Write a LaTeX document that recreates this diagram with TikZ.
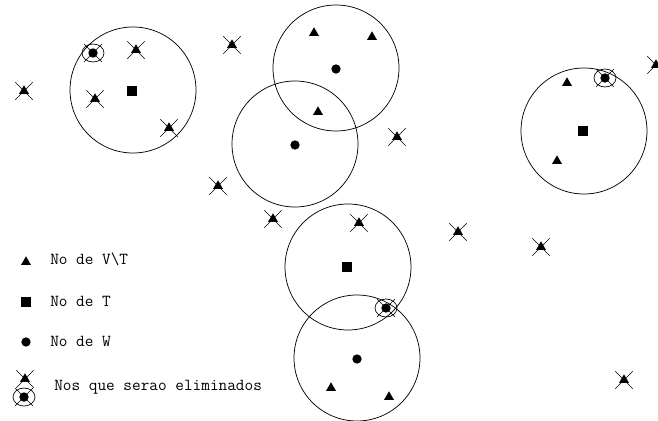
\documentclass[tikz,border=0pt]{standalone}
\usetikzlibrary{shapes.geometric, shapes.misc}

\begin{document}
\begin{tikzpicture}[
    x=0.75pt, y=-0.75pt,
    zone/.style={circle, draw, line width=0.55pt, minimum size=94.5pt, inner sep=0pt},
    vtnode/.style={regular polygon, regular polygon sides=3, fill, minimum size=8.6pt, inner sep=0pt},
    tnode/.style={rectangle, fill, minimum size=6.8pt, inner sep=0pt},
    wnode/.style={circle, fill, minimum size=7pt, inner sep=0pt},
    ring/.style={ellipse, draw, line width=0.5pt, minimum width=16.5pt, minimum height=13.5pt, inner sep=0pt},
    killtri/.style={cross out, draw, line width=0.5pt, minimum size=12.5pt, inner sep=0pt, label={[vtnode]center:}},
    killw/.style={cross out, draw, line width=0.5pt, minimum size=13pt, inner sep=0pt, label={[ring]center:}, label={[wnode]center:}},
    legendtext/.style={anchor=west, inner sep=0pt, font=\ttfamily\fontsize{12.6}{15}\selectfont},
]
\clip (0,0) rectangle (658,421);

% Circles
\node[zone] (c1) at (133,90) {};
\node[zone] (c2) at (336,68) {};
\node[zone] (c3) at (295,144) {};
\node[zone] (c4) at (348,267) {};
\node[zone] (c5) at (357,358) {};
\node[zone] (c6) at (584,131) {};

% Nodes of T
\node[tnode] (t1) at (132,91) {};
\node[tnode] (t2) at (347,267) {};
\node[tnode] (t3) at (583,131) {};

% Nodes of W
\node[wnode] (w1) at (336,69) {};
\node[wnode] (w2) at (295,145) {};
\node[wnode] (w3) at (357,359) {};

% Nodes of V\T
\node[vtnode] (v1) at (314,33) {};
\node[vtnode] (v2) at (372,37) {};
\node[vtnode] (v3) at (318,112) {};
\node[vtnode] (v4) at (331,388) {};
\node[vtnode] (v5) at (389,397) {};
\node[vtnode] (v6) at (567,83) {};
\node[vtnode] (v7) at (557,161) {};

% Nodes to be removed
\node[killtri] (k1) at (24,91) {};
\node[killtri] (k2) at (136,50) {};
\node[killtri] (k3) at (95,99) {};
\node[killtri] (k4) at (169,128) {};
\node[killtri] (k5) at (232,45) {};
\node[killtri] (k6) at (397,137) {};
\node[killtri] (k7) at (218,186) {};
\node[killtri] (k8) at (273,219) {};
\node[killtri] (k9) at (359,223) {};
\node[killtri] (k10) at (458,232) {};
\node[killtri] (k11) at (541,247) {};
\node[killtri] (k12) at (624,380) {};
\node[killtri] (k13) at (656,65) {};
\node[killw] (kw1) at (93,53) {};
\node[killw] (kw2) at (386,308) {};
\node[killw] (kw3) at (605,78) {};

% Legend
\node[vtnode] (lvt) at (26,262) {};
\node[legendtext] (lvttext) at (50,259) {No de V\textbackslash T};
\node[tnode] (lt) at (26,302) {};
\node[legendtext] (lttext) at (50,301) {No de T};
\node[wnode] (lw) at (26,342) {};
\node[legendtext] (lwtext) at (50,341) {No de W};
\node[killtri] (lk) at (25,379) {};
\node[killw] (lkw) at (24,397) {};
\node[legendtext] (lktext) at (54,387) {Nos que serao eliminados};

\end{tikzpicture}
\end{document}
